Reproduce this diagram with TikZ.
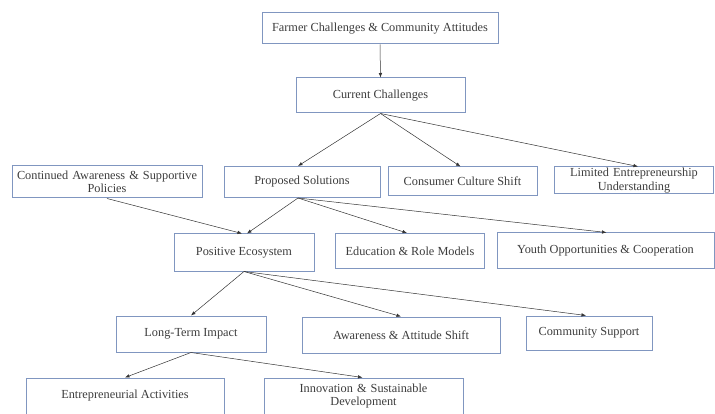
\documentclass[tikz,border=0pt]{standalone}
\usepackage{fontspec}
\setmainfont{Liberation Serif}
\usetikzlibrary{arrows.meta}

\tikzset{
  box/.style={draw=boxblue, line width=1pt, rectangle, align=center, text=txtgray, font=\fontsize{12.3}{13.5}\selectfont, inner sep=1pt},
  link/.style={-{Latex[length=4.5pt,width=3.5pt]}, line width=0.5pt, draw=black!80}
}
\definecolor{boxblue}{RGB}{128,150,192}
\definecolor{txtgray}{RGB}{60,60,60}

\begin{document}
\begin{tikzpicture}[x=1pt, y=-1pt]
        \useasboundingbox (0,0) rectangle (715,414);

        % Livello superiore
        \node[box, minimum width=236pt, minimum height=31pt] (farm) at (380,28.5) {Farmer Challenges \& Community Attitudes};
        \node[box, minimum width=169pt, minimum height=35pt] (curr) at (380.5,95.5) {Current Challenges};

        % Secondo livello
        \node[box, minimum width=190pt, minimum height=32pt, text width=186pt] (cont) at (107,182) {Continued Awareness \& Supportive\\Policies};
        \node[box, minimum width=156pt, minimum height=31pt] (prop) at (302,182) {Proposed Solutions};
        \node[box, minimum width=149pt, minimum height=29pt] (cons) at (462.5,181.5) {Consumer Culture Shift};
        \node[box, minimum width=159pt, minimum height=27pt, text width=157pt] (limi) at (634,180.5) {Limited Entrepreneurship\\Understanding};

        % Terzo livello
        \node[box, minimum width=140pt, minimum height=37pt] (posi) at (244,252.5) {Positive Ecosystem};
        \node[box, minimum width=149pt, minimum height=35pt] (educ) at (410,251) {Education \& Role Models};
        \node[box, minimum width=217pt, minimum height=36pt] (yout) at (605.5,251) {Youth Opportunities \& Cooperation};

        % Quarto livello
        \node[box, minimum width=150pt, minimum height=36pt] (long) at (191,334) {Long-Term Impact};
        \node[box, minimum width=198pt, minimum height=36pt] (awar) at (401,335) {Awareness \& Attitude Shift};
        \node[box, minimum width=126pt, minimum height=34pt] (comm) at (589,333) {Community Support};

        % Livello inferiore
        \node[box, minimum width=198pt, minimum height=36pt] (entr) at (125,396) {Entrepreneurial Activities};
        \node[box, minimum width=199pt, minimum height=36pt, text width=195pt] (inno) at (363.5,396) {Innovation \& Sustainable\\Development};

        % Collegamenti
        \draw[link] (farm.south) -- (curr.north);
        \draw[link] (curr.south) -- ([xshift=-4pt]prop.north);
        \draw[link] (curr.south) -- ([xshift=-2pt]cons.north);
        \draw[link] (curr.south) -- ([xshift=4pt]limi.north);
        \draw[link] (cont.south) -- ([xshift=-2pt]posi.north);
        \draw[link] ([xshift=-4pt]prop.south) -- ([xshift=3pt]posi.north);
        \draw[link] ([xshift=-4pt]prop.south) -- ([xshift=-3pt]educ.north);
        \draw[link] ([xshift=-4pt]prop.south) -- ([xshift=1pt]yout.north);
        \draw[link] (posi.south) -- (long.north);
        \draw[link] (posi.south) -- (awar.north);
        \draw[link] (posi.south) -- ([xshift=-3pt]comm.north);
        \draw[link] (long.south) -- (entr.north);
        \draw[link] (long.south) -- ([xshift=-1pt]inno.north);
\end{tikzpicture}
\end{document}
